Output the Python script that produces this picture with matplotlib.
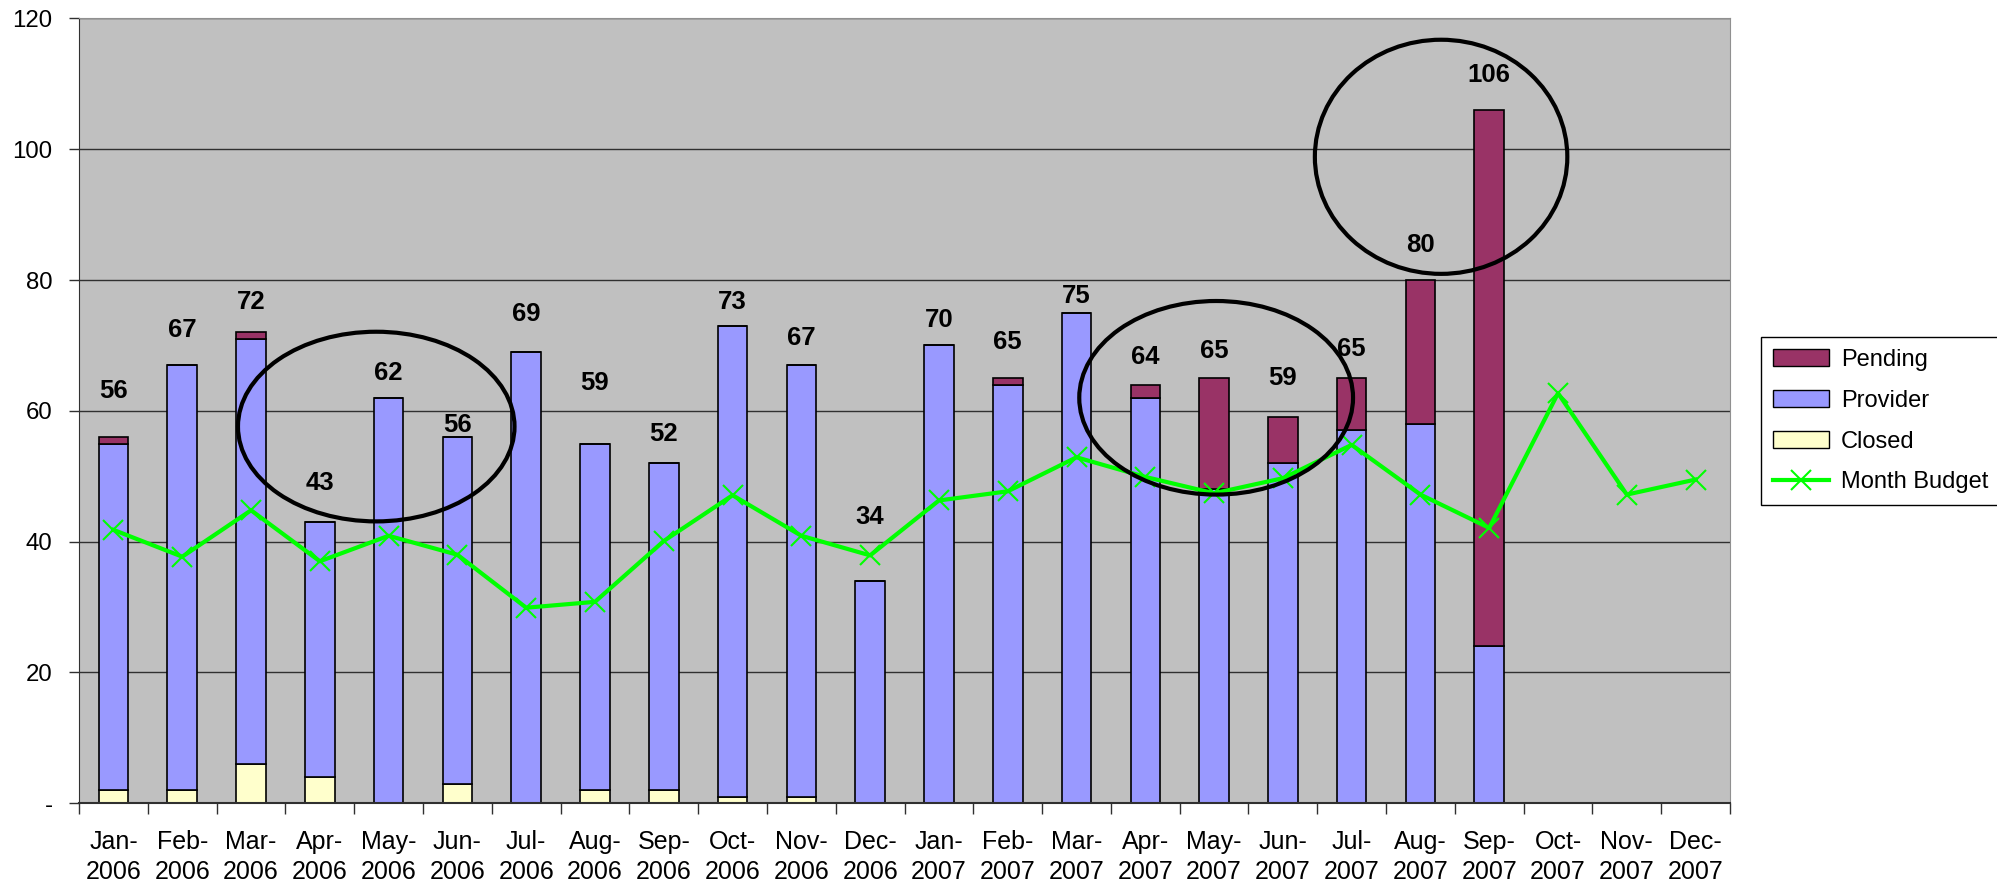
import matplotlib
matplotlib.use('Agg')
import matplotlib.pyplot as plt
from matplotlib.patches import Ellipse, Patch
from matplotlib.lines import Line2D
import numpy as np

plt.rcParams['font.family'] = ['Liberation Sans', 'DejaVu Sans']

month_names = ['Jan', 'Feb', 'Mar', 'Apr', 'May', 'Jun',
               'Jul', 'Aug', 'Sep', 'Oct', 'Nov', 'Dec']
years = ['2006', '2007']
categories = [f'{m}-\n{y}' for y in years for m in month_names]

closed = [2, 2, 6, 4, 0, 3, 0, 2, 2, 1, 1, 0, 0, 0, 0, 0, 0, 0, 0, 0, 0]
provider = [53, 65, 65, 39, 62, 53, 69, 53, 50, 72, 66, 34,
            70, 64, 75, 62, 48, 52, 57, 58, 24]
pending = [1, 0, 1, 0, 0, 0, 0, 0, 0, 0, 0, 0,
           0, 1, 0, 2, 17, 7, 8, 22, 82]
total_labels = [56, 67, 72, 43, 62, 56, 69, 59, 52, 73, 67, 34,
                70, 65, 75, 64, 65, 59, 65, 80, 106]
month_budget = [41.8, 37.7, 44.8, 37.0, 40.9, 38.0, 29.9, 30.8, 40.1, 47.1, 40.9, 37.9,
                46.3, 47.7, 52.9, 49.9, 47.4, 49.7, 54.8, 47.2, 42.1, 62.7, 47.2, 49.5]

# where the hand-placed total labels sit (data units)
label_y = [63.0, 72.4, 76.6, 49.0, 65.8, 57.9, 74.8, 64.2, 56.4, 76.6, 71.1, 43.7,
           73.9, 70.5, 77.5, 68.3, 69.2, 65.0, 69.5, 85.4, 111.4]
# circles drawn on the chart: (x center, y center, width, height)
circles = [(3.82, 57.6, 4.02, 29.0), (16.03, 62.0, 3.98, 29.6), (19.3, 98.85, 3.67, 35.8)]

fig, ax = plt.subplots(figsize=(19.97, 8.93), dpi=100)
fig.subplots_adjust(left=0.0396, right=0.8663, bottom=0.1005, top=0.9793)

ax.set_facecolor('#C0C0C0')
x = np.arange(len(closed))
w = 0.43
closed = np.array(closed)
provider = np.array(provider)
pending = np.array(pending)
ax.bar(x, closed, w, color='#FFFFCC', edgecolor='black', linewidth=1.2, zorder=2)
ax.bar(x, provider, w, bottom=closed, color='#9999FF', edgecolor='black', linewidth=1.2, zorder=2)
ax.bar(x, pending, w, bottom=closed + provider, color='#993366', edgecolor='black', linewidth=1.2, zorder=2)

ax.plot(np.arange(len(month_budget)), month_budget, color='#00FF00', lw=3,
        marker='x', markersize=14, markeredgewidth=1.5, zorder=4)

for i, t in enumerate(total_labels):
    ax.text(i, label_y[i], str(t), ha='center', va='center', fontsize=18.5, fontweight='bold', zorder=6)

for cx, cy, ew, eh in circles:
    ax.add_patch(Ellipse((cx, cy), ew, eh, fill=False, edgecolor='black', lw=3, zorder=5))

ax.set_xlim(-0.5, len(categories) - 0.5)
ax.set_ylim(0, 120)
ax.set_yticks(range(0, 121, 20))
ax.set_yticklabels(['-', '20', '40', '60', '80', '100', '120'], fontsize=17.3)
ax.yaxis.grid(True, color='#303030', lw=1)
ax.set_axisbelow(True)

ax.set_xticks(np.arange(len(categories) + 1) - 0.5)
ax.set_xticklabels([])
ax.set_xticks(x.tolist() + [21, 22, 23], minor=True)
ax.set_xticklabels(categories, minor=True, fontsize=18, linespacing=1.35)
ax.tick_params(axis='x', which='major', length=8, width=1, color='#303030')
ax.tick_params(axis='x', which='minor', length=0, pad=19)
ax.tick_params(axis='y', length=7, width=1, color='#303030', pad=12)

ax.spines['left'].set_color('#303030')
ax.spines['bottom'].set_color('#303030')
ax.spines['bottom'].set_linewidth(1.5)
ax.spines['top'].set_color('#909090')
ax.spines['right'].set_color('#909090')

handles = [Patch(facecolor='#993366', edgecolor='black', label='Pending'),
           Patch(facecolor='#9999FF', edgecolor='black', label='Provider'),
           Patch(facecolor='#FFFFCC', edgecolor='black', label='Closed'),
           Line2D([], [], color='#00FF00', lw=3, marker='x', markersize=14,
                  markeredgewidth=1.5, label='Month Budget')]
leg = ax.legend(handles=handles, loc='upper left', bbox_to_anchor=(0.8817, 0.6226),
                bbox_transform=fig.transFigure, fontsize=17, frameon=True, fancybox=False,
                edgecolor='black', framealpha=1, borderaxespad=0, borderpad=0.5,
                labelspacing=0.8, handlelength=2.4, handletextpad=0.5)
leg.get_frame().set_linewidth(1)

plt.savefig('out.png')
